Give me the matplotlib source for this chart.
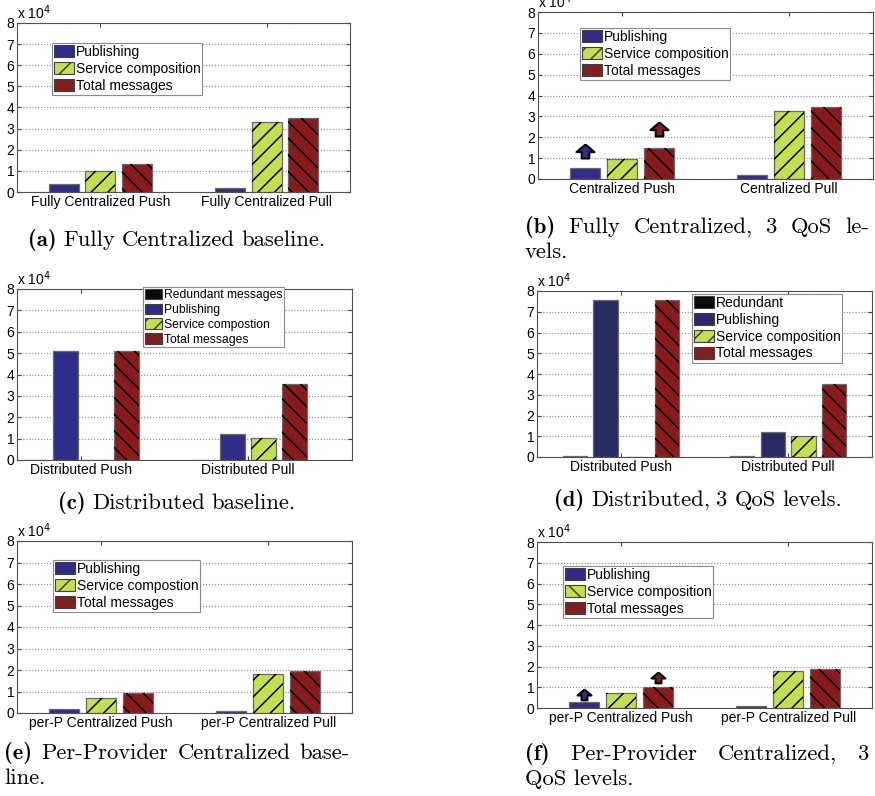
import numpy as np
import matplotlib
matplotlib.use("Agg")
import matplotlib.pyplot as plt
from matplotlib.path import Path
from matplotlib.patches import Patch

# values (messages)
cats_a = ["Fully Centralized Push", "Fully Centralized Pull"]
a_pub = [3900, 2000]
a_svc = [9800, 33100]
a_tot = [13400, 35000]

cats_b = ["Centralized Push", "Centralized Pull"]
b_pub = [5300, 2100]
b_svc = [9700, 32700]
b_tot = [14900, 34500]
b_arrow_y = [12600, 23000]   # arrows over publishing / total (push)

cats_c = ["Distributed Push", "Distributed Pull"]
c_red = [150, 150]
c_pub = [51000, 12200]
c_svc = [0, 10100]
c_tot = [51000, 35400]

cats_d = ["Distributed Push", "Distributed Pull"]
d_red = [250, 250]
d_pub = [75800, 12000]
d_svc = [0, 10200]
d_tot = [75800, 35200]

cats_e = ["per-P Centralized Push", "per-P Centralized Pull"]
e_pub = [1700, 800]
e_svc = [7100, 18300]
e_tot = [9100, 19400]

cats_f = ["per-P Centralized Push", "per-P Centralized Pull"]
f_pub = [2700, 800]
f_svc = [7200, 17900]
f_tot = [9900, 18900]
f_arrow_y = [5600, 13900]

BLUE = "#2e2d8a"
BLUE_D = "#282c62"
GREEN = "#c4e04e"
RED = "#8a1b1b"
BLACK = "#0a0a0a"
FW = "//"
BK = "\\\\"

plt.rcParams["font.family"] = ["Liberation Sans", "DejaVu Sans"]
plt.rcParams["hatch.linewidth"] = 1.1

W, H = 875, 796
fig = plt.figure(figsize=(W / 100, H / 100), dpi=100)


def px_axes(x0, y0, x1, y1):
    return fig.add_axes([x0 / W, 1 - y1 / H, (x1 - x0) / W, (y1 - y0) / H])


def draw_panel(ax, cats, series, xlim=(0.5, 2.5), width=0.18, step=0.22):
    x = np.arange(1, len(cats) + 1)
    n = len(series)
    offs = (np.arange(n) - (n - 1) / 2) * step
    for (vals, col, hatch), off in zip(series, offs):
        ax.bar(x + off, vals, width, color=col, edgecolor="#6a6a6a", lw=0.9, zorder=3)
        if hatch:
            ax.bar(x + off, vals, width, color="none", edgecolor="black", lw=0,
                   hatch=hatch, zorder=4)
    ax.set_xlim(*xlim)
    ax.set_ylim(0, 80000)
    ax.set_yticks(np.arange(0, 80001, 10000))
    ax.set_yticklabels([str(i) for i in range(9)])
    ax.set_xticks(x)
    ax.set_xticklabels(cats)
    ax.grid(axis="y", ls=":", color="#8a8a8a", lw=0.8, zorder=0)
    ax.tick_params(direction="in", top=True, right=True, length=3, labelsize=10,
                   pad=2, color="#444444")
    for s in ax.spines.values():
        s.set_color("#505050")
        s.set_linewidth(0.8)
    ax.text(0, 1.004, r"x 10$^4$", transform=ax.transAxes, fontsize=10, va="bottom")
    return x, offs


def add_legend(ax, items, x, y, size=10):
    handles = [Patch(facecolor=c, edgecolor="#404040", lw=0.8, hatch=h) for _, c, h in items]
    labels = [lab for lab, _, _ in items]
    leg = ax.legend(handles, labels, loc="upper left", bbox_to_anchor=(x / W, 1 - y / H),
                    bbox_transform=fig.transFigure, fontsize=size, fancybox=False,
                    edgecolor="#8a8a8a", framealpha=1, borderpad=0.15, labelspacing=0.2,
                    handlelength=1.45, handleheight=0.95, handletextpad=0.1, borderaxespad=0)
    leg.get_frame().set_linewidth(0.8)
    leg.set_zorder(10)


up_arrow = Path([(0, 1), (1, 0.15), (0.42, 0.15), (0.42, -0.55), (-0.42, -0.55),
                 (-0.42, 0.15), (-1, 0.15), (0, 1)])

# (a)
ax = px_axes(17, 23, 350, 192)
draw_panel(ax, cats_a, [(a_pub, BLUE, None), (a_svc, GREEN, FW), (a_tot, RED, BK)])
add_legend(ax, [("Publishing", BLUE, None), ("Service composition", GREEN, FW),
                ("Total messages", RED, BK)], 52, 43)

# (b)
ax = px_axes(538, 12, 873, 179)
x, offs = draw_panel(ax, cats_b, [(b_pub, BLUE, None), (b_svc, GREEN, FW), (b_tot, RED, BK)])
ax.plot(x[0] + offs[0], b_arrow_y[0], marker=up_arrow, ms=13, mfc=BLUE, mec="black", mew=1.5, zorder=6)
ax.plot(x[0] + offs[2], b_arrow_y[1], marker=up_arrow, ms=13, mfc=RED, mec="black", mew=1.5, zorder=6)
add_legend(ax, [("Publishing", BLUE, None), ("Service composition", GREEN, FW),
                ("Total messages", RED, BK)], 580, 28)

# (c)
ax = px_axes(17, 289, 352, 460)
draw_panel(ax, cats_c, [(c_red, BLACK, None), (c_pub, BLUE, None), (c_svc, GREEN, FW),
                        (c_tot, RED, BK)], xlim=(0.62, 2.62), width=0.15, step=0.183)
add_legend(ax, [("Redundant messages", BLACK, None), ("Publishing", BLUE, None),
                ("Service compostion", GREEN, FW), ("Total messages", RED, BK)], 143, 287, size=8.7)

# (d)
ax = px_axes(537, 291, 872, 457)
draw_panel(ax, cats_d, [(d_red, BLACK, None), (d_pub, BLUE_D, None), (d_svc, GREEN, FW),
                        (d_tot, RED, BK)], width=0.145, step=0.183)
add_legend(ax, [("Redundant", BLACK, None), ("Publishing", BLUE_D, None),
                ("Service composition", GREEN, FW), ("Total messages", RED, BK)], 692, 294)

# (e)
ax = px_axes(17, 541, 352, 713)
draw_panel(ax, cats_e, [(e_pub, BLUE, None), (e_svc, GREEN, FW), (e_tot, RED, BK)])
add_legend(ax, [("Publishing", BLUE, None), ("Service compostion", GREEN, FW),
                ("Total messages", RED, BK)], 53, 560)

# (f)
ax = px_axes(537, 542, 872, 708)
x, offs = draw_panel(ax, cats_f, [(f_pub, BLUE, None), (f_svc, GREEN, FW), (f_tot, RED, BK)])
ax.plot(x[0] + offs[0], f_arrow_y[0], marker=up_arrow, ms=10, mfc=BLUE, mec="black", mew=1.5, zorder=6)
ax.plot(x[0] + offs[2], f_arrow_y[1], marker=up_arrow, ms=10, mfc=RED, mec="black", mew=1.5, zorder=6)
add_legend(ax, [("Publishing", BLUE, None), ("Service composition", GREEN, BK),
                ("Total messages", RED, BK)], 563, 566)

# captions
renderer = fig.canvas.get_renderer()
CAP = 16.3
SP = 6.5


def caption(words, y, x0=None, x1=None, center=None):
    # first word bold, rest roman; justify between x0 and x1, or centre
    texts = []
    for i, w in enumerate(words):
        t = fig.text(0, 1 - y / H, w, fontsize=CAP, va="center",
                     family="cmb10" if i == 0 else "cmr10")
        texts.append(t)
    widths = [t.get_window_extent(renderer).width for t in texts]
    gap = SP
    if x1 is not None:
        gap = (x1 - x0 - sum(widths)) / (len(words) - 1)
    if center is not None:
        x0 = center - (sum(widths) + gap * (len(words) - 1)) / 2
    xx = x0
    for t, w in zip(texts, widths):
        t.set_x(xx / W)
        xx += w + gap


def plain(s, x, y):
    fig.text(x / W, 1 - y / H, s, fontsize=CAP, va="center", family="cmr10")


caption(["(a)", "Fully", "Centralized", "baseline."], 240, center=177)
caption(["(b)", "Fully", "Centralized,", "3", "QoS", "le-"], 227, 525, 869)
plain("vels.", 525, 252)
caption(["(c)", "Distributed", "baseline."], 503, center=177)
caption(["(d)", "Distributed,", "3", "QoS", "levels."], 500, center=698)
caption(["(e)", "Per-Provider", "Centralized", "base-"], 753, 4, 350)
plain("line.", 4, 778)
caption(["(f)", "Per-Provider", "Centralized,", "3"], 754, 525, 869)
plain("QoS levels.", 525, 779)

fig.savefig("out.png", dpi=100)
